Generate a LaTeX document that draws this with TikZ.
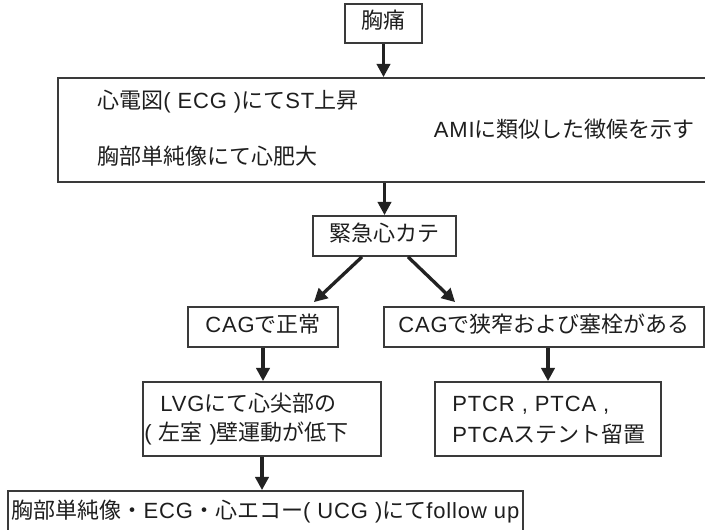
\documentclass[tikz,border=0pt]{standalone}
\usepackage{fontspec}
\setmainfont{Noto Sans CJK JP}
\newfontfamily\lat[LetterSpace=4]{Liberation Sans}
\usetikzlibrary{arrows.meta,calc}
\definecolor{boxc}{HTML}{3A3A3A}
\definecolor{arrc}{HTML}{222222}
\definecolor{txtc}{HTML}{1E1E1E}
\tikzset{
  box/.style={draw=boxc, line width=1.3pt, inner sep=0pt, text=txtc,
    font=\fontsize{16.5}{20}\selectfont, text height=0.76em, text depth=0pt},
  txt/.style={inner sep=0pt, text=txtc, font=\fontsize{16.5}{20}\selectfont,
    text height=0.76em, text depth=0pt},
  arr/.style={draw=arrc, line width=2.5pt, -{Triangle[length=10pt,width=10pt]}}
}
\begin{document}
\begin{tikzpicture}[x=0.75pt,y=-0.75pt]
\useasboundingbox (0,0) rectangle (705,530);
% boxes
\node[box, minimum width=57.75pt, minimum height=29.25pt] (n1) at (383.5,23.5) {胸痛};
\node[box, minimum width=487.5pt, minimum height=78pt] (big) at (383,130) {};
\node[box, minimum width=107.25pt, minimum height=30pt] (n3) at (384.5,236) {緊急心カテ};
\node[box, minimum width=112.5pt, minimum height=30pt] (c1) at (263,327) {{\lat CAG}で正常};
\node[box, minimum width=240pt, minimum height=30pt] (c2) at (544,327) {{\lat CAG}で狭窄および塞栓がある};
\node[box, minimum width=178.5pt, minimum height=55.5pt] (lvg) at (262,419) {};
\node[box, minimum width=169.5pt, minimum height=55.5pt] (ptcr) at (548,419) {};
\node[box, minimum width=386.25pt, minimum height=33pt] (fb) at (265.5,513)
  {胸部単純像・{\lat ECG}・心エコー{\lat ( UCG )}にて{\lat follow up}};
% texts inside the larger boxes
\node[txt, anchor=west] (t1) at (97,103) {心電図{\lat ( ECG )}にて{\lat ST}上昇};
\node[txt, anchor=east] (t2) at (695,132) {{\lat AMI}に類似した徴候を示す};
\node[txt, anchor=west] (t3) at (97,159) {胸部単純像にて心肥大};
\node[txt, anchor=west] (l1) at (160,406) {{\lat LVG}にて心尖部の};
\node[txt, anchor=west] (l2) at (144,435) {{\lat ( }左室{\lat\ )}壁運動が低下};
\node[txt, anchor=west] (p1) at (452,406) {{\lat PTCR , PTCA ,}};
\node[txt, anchor=west] (p2) at (452,437) {{\lat PTCA}ステント留置};
% connectors
\draw[arr] (n1.south) -- (n1.south |- big.north);
\draw[arr] (big.south -| n3.north) -- (n3.north);
\draw[arr] ($(n3.south)+(-22.5,0)$) -- ($(c1.north east)+(-25,-4)$);
\draw[arr] ($(n3.south)+(23.5,0)$) -- ($(c2.north west)+(72,-4)$);
\draw[arr] (c1.south) -- (c1.south |- lvg.north);
\draw[arr] (ptcr.north |- c2.south) -- (ptcr.north);
\draw[arr] (lvg.south) -- (lvg.south |- fb.north);
\end{tikzpicture}
\end{document}
